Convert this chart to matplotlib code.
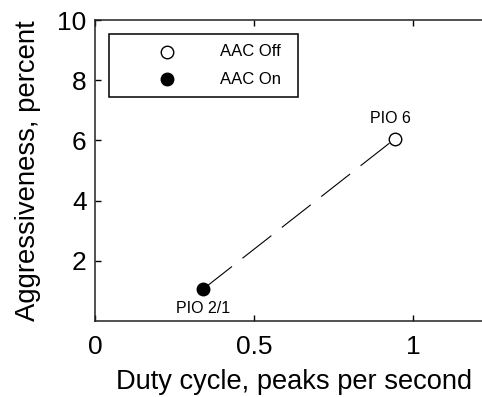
import matplotlib
matplotlib.use("Agg")
import matplotlib.pyplot as plt
from matplotlib.patches import Rectangle

plt.rcParams['font.family'] = ['Liberation Sans', 'DejaVu Sans']

# Data
duty_cycle = [0.34, 0.943]          # peaks per second
aggressiveness = [1.06, 6.05]       # percent
point_labels = ["PIO 2/1", "PIO 6"]
series_names = ["AAC Off", "AAC On"]
x_ticks = [0, 0.5, 1]
x_tick_labels = ["0", "0.5", "1"]
y_ticks = [2, 4, 6, 8, 10]
y_tick_labels = ["2", "4", "6", "8", "10"]

fig = plt.figure(figsize=(4.82, 3.97), dpi=100)
ax = fig.add_axes([95/482, 76/397, 397.5/482, 301/397])
ax.set_xlim(0, 1.25)
ax.set_ylim(0, 10)

# dashed connecting line
ax.plot(duty_cycle, aggressiveness, color='black', lw=0.8,
        dashes=(33, 12), zorder=2)
# AAC On (filled) -> PIO 2/1, AAC Off (open) -> PIO 6
ax.plot(duty_cycle[0], aggressiveness[0], 'o', ms=9, mfc='black', mec='black', mew=1, zorder=3)
ax.plot(duty_cycle[1], aggressiveness[1], 'o', ms=9, mfc='white', mec='black', mew=1, zorder=3)

ax.annotate(point_labels[0], (duty_cycle[0], aggressiveness[0]), xytext=(0, -14),
            textcoords='offset points', ha='center', va='center', fontsize=11.5)
ax.annotate(point_labels[1], (duty_cycle[1], aggressiveness[1]), xytext=(-3, 15),
            textcoords='offset points', ha='center', va='center', fontsize=11.5)

ax.set_xticks(x_ticks)
ax.set_xticklabels(x_tick_labels)
ax.set_yticks(y_ticks)
ax.set_yticklabels(y_tick_labels)
ax.tick_params(direction='in', length=4, width=1, labelsize=19, top=True, right=False, pad=6)
ax.tick_params(axis='x', pad=10)
for s in ax.spines.values():
    s.set_linewidth(1.1)
    s.set_color('#222222')

ax.set_xlabel("Duty cycle, peaks per second", fontsize=19.6, labelpad=7)
ax.set_ylabel("Aggressiveness, percent", fontsize=19.8, labelpad=12)

# Legend box (manual, in axes coordinates)
def ax_xy(px, py):
    return ((px - 95) / 397.5, (321 - py) / 301)

x0, y0 = ax_xy(109, 97)
x1, y1 = ax_xy(298, 34)
ax.add_patch(Rectangle((x0, y0), x1 - x0, y1 - y0, transform=ax.transAxes,
                       fill=True, facecolor='white', edgecolor='black', lw=1.1, zorder=4))
mx, _ = ax_xy(167, 0)
tx, _ = ax_xy(220, 0)
_, ya = ax_xy(0, 52)
_, yb = ax_xy(0, 79)
ax.plot([mx], [ya], 'o', ms=9, mfc='white', mec='black', mew=1, transform=ax.transAxes, zorder=5, clip_on=False)
ax.plot([mx], [yb], 'o', ms=9, mfc='black', mec='black', mew=1, transform=ax.transAxes, zorder=5, clip_on=False)
ax.text(tx, ya, series_names[0], transform=ax.transAxes, ha='left', va='center', fontsize=12, zorder=5)
ax.text(tx, yb, series_names[1], transform=ax.transAxes, ha='left', va='center', fontsize=12, zorder=5)

fig.savefig("out.png", dpi=100)
